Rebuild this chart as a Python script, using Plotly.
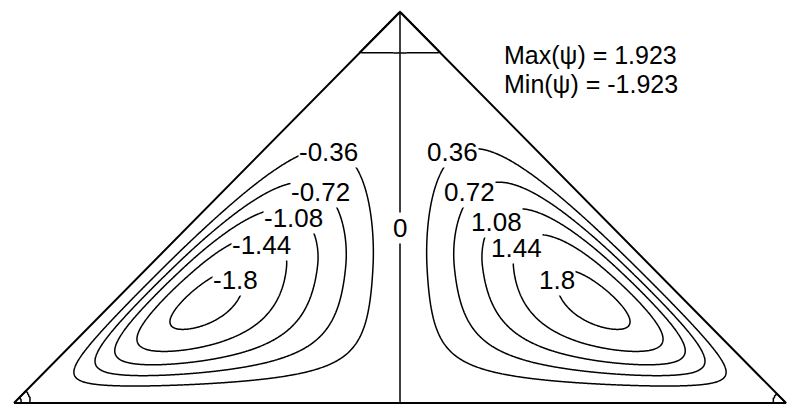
import numpy as np
import plotly.graph_objects as go

# Enclosure: isosceles right triangle, base on y = 0, apex at (0, 1)
tri_x = [-1.0, 1.0, 0.0, -1.0]
tri_y = [0.0, 0.0, 1.0, 0.0]

# Stream-function extremes and contour levels
psi_max = 1.923
psi_min = -1.923
levels = [-1.8, -1.44, -1.08, -0.72, -0.36, 0.0, 0.36, 0.72, 1.08, 1.44, 1.8]
level_step = 0.36

# Secondary-eddy separatrices (apex eddy height, corner eddy radii)
apex_eddy_y = 0.895
left_corner_eddy_r = [0.02, 0.043]
right_corner_eddy_r = [0.034]

# Contour label anchor positions (same order as levels)
label_x = [-0.425, -0.358, -0.277, -0.205, -0.186, 0.0, 0.137, 0.181, 0.251, 0.303, 0.407]
label_y = [0.315, 0.404, 0.473, 0.539, 0.642, 0.448, 0.642, 0.539, 0.463, 0.396, 0.315]

# Vortex shape parameters: wall layer thicknesses and upper decay
wall_len_bottom = 0.11
wall_len_hyp = 0.07
decay_start = 0.35
decay_width = 0.266

# ---- stream function on a regular grid (even nx keeps x = 0 between columns)
nx, ny = 700, 350
xs = np.linspace(-1.0, 1.0, nx)
ys = np.linspace(0.0, 1.0, ny)
X, Y = np.meshgrid(xs, ys)
AX = np.abs(X)
d_bottom = Y
d_hyp = (1.0 - AX - Y) / np.sqrt(2.0)
inside = d_hyp > 0

w_b = (1.0 - np.exp(-d_bottom / wall_len_bottom)) ** 2
w_h = (1.0 - np.exp(-np.clip(d_hyp, 0, None) / wall_len_hyp)) ** 2
decay = np.exp(-np.clip(Y - decay_start, 0, None) ** 2 / (2.0 * decay_width ** 2))
F = AX * w_b * w_h * decay
F = F / F.max()
psi = np.sign(X) * F * psi_max

flip = np.ones_like(psi)
flip[Y > apex_eddy_y] *= -1
r_left = np.hypot(X + 1.0, Y)
for r0 in left_corner_eddy_r:
    flip[r_left < r0] *= -1
r_right = np.hypot(X - 1.0, Y)
for r0 in right_corner_eddy_r:
    flip[r_right < r0] *= -1
psi = psi * flip
psi[~inside] = np.sign(X[~inside]) * 1e-9
psi = psi.astype(np.float32)

fig = go.Figure()
fig.add_trace(go.Contour(
    x=xs.astype(np.float32), y=ys.astype(np.float32), z=psi,
    autocontour=False,
    contours=dict(start=min(levels), end=max(levels), size=level_step,
                  coloring="none", showlabels=False),
    line=dict(color="black", width=1.5, smoothing=1),
    showscale=False, hoverinfo="skip",
))
fig.add_trace(go.Scatter(
    x=tri_x, y=tri_y, mode="lines",
    line=dict(color="black", width=2), hoverinfo="skip", showlegend=False,
))

font = dict(family="Liberation Sans, Arial, sans-serif", size=26, color="black")
for lv, lx, ly in zip(levels, label_x, label_y):
    fig.add_annotation(x=lx, y=ly, text=f"{lv:g}", showarrow=False,
                       xanchor="center", yanchor="middle",
                       bgcolor="white", borderpad=0, font=font)

big = dict(family="Liberation Sans, Arial, sans-serif", size=25, color="black")
fig.add_annotation(x=0.264, y=0.89, text=f"Max(\u03c8) = {psi_max:.3f}", showarrow=False,
                   xanchor="left", yanchor="middle", font=big)
fig.add_annotation(x=0.264, y=0.815, text=f"Min(\u03c8) = {psi_min:.3f}", showarrow=False,
                   xanchor="left", yanchor="middle", font=big)

fig.update_layout(
    width=787, height=407,
    margin=dict(l=0, r=0, t=0, b=0),
    paper_bgcolor="white", plot_bgcolor="white",
    showlegend=False,
    xaxis=dict(range=[-1.0 - 14 / 386, 1.0 + 1 / 386], visible=False, fixedrange=True),
    yaxis=dict(range=[-4 / 391, 1.0 + 12 / 391], visible=False, fixedrange=True),
)

fig.write_html("out.html")
